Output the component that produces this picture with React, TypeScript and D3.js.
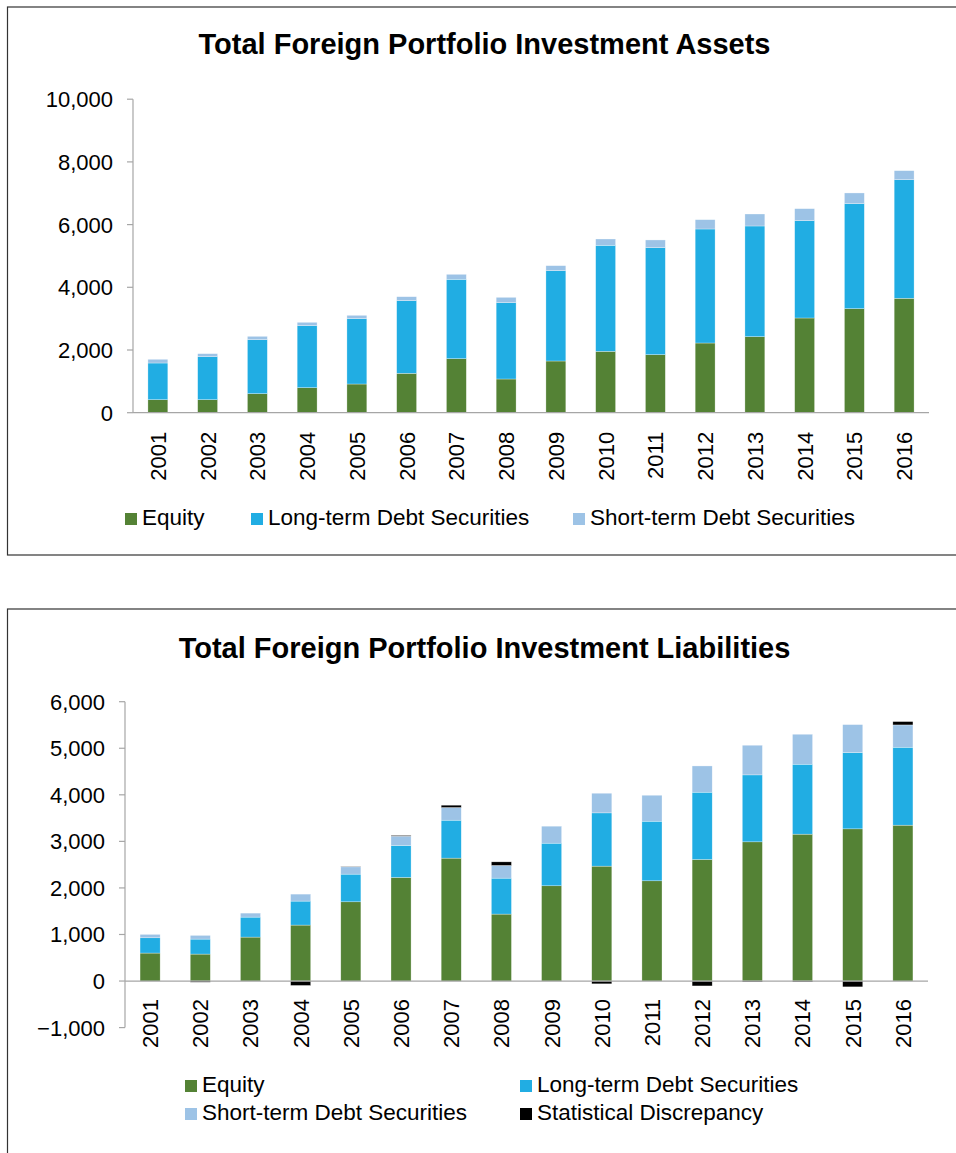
import React from "react";
import * as d3 from "d3";

const years = ["2001","2002","2003","2004","2005","2006","2007","2008","2009","2010","2011","2012","2013","2014","2015","2016"];

// Assets (USD bn)
const assetEquity = [415, 415, 607, 798, 915, 1256, 1723, 1075, 1649, 1957, 1851, 2223, 2425, 3021, 3318, 3649];
const assetLongTerm = [1170, 1372, 1723, 1979, 2085, 2317, 2532, 2434, 2882, 3383, 3413, 3637, 3531, 3104, 3349, 3784];
const assetShortTerm = [118, 96, 106, 106, 106, 127, 159, 171, 159, 201, 246, 297, 382, 383, 342, 287];

// Liabilities (USD bn)
const liabEquity = [601, 579, 944, 1202, 1702, 2225, 2640, 1438, 2046, 2468, 2153, 2611, 2990, 3155, 3269, 3348];
const liabLongTerm = [328, 322, 429, 515, 594, 687, 815, 772, 915, 1144, 1280, 1445, 1438, 1502, 1639, 1674];
const liabShortTerm = [73, 79, 86, 150, 157, 200, 272, 273, 365, 422, 558, 564, 637, 644, 600, 479];
const liabDiscrepancy = [0, -25, 0, -95, 8, 15, 50, 77, 0, -60, 0, -105, -20, -20, -125, 72];

const assetTicks = [0, 2000, 4000, 6000, 8000, 10000];
const liabTicks = [-1000, 0, 1000, 2000, 3000, 4000, 5000, 6000];

const seriesNames = ["Equity", "Long-term Debt Securities", "Short-term Debt Securities", "Statistical Discrepancy"];
const seriesColors = ["#548235", "#21ADE3", "#9DC3E6", "#000000"];

const FONT = "'Liberation Sans', Arial, sans-serif";
const fmt = d3.format(",");

type ChartProps = {
  title: string;
  titleY: number;
  titleSize: number;
  series: number[][];
  ticks: number[];
  domain: [number, number];
  xRange: [number, number];
  yRange: [number, number];
  xLabelOffset: number;
};

function StackedChart({ title, titleY, titleSize, series, ticks, domain, xRange, yRange, xLabelOffset }: ChartProps) {
  const rows = years.map((y, i) => {
    const r: any = { year: y };
    series.forEach((s, k) => (r["s" + k] = s[i]));
    return r;
  });
  const keys = series.map((_, k) => "s" + k);
  const stacked = d3.stack<any>().keys(keys).offset(d3.stackOffsetDiverging)(rows);
  const x = d3.scaleBand<string>().domain(years).range(xRange).paddingInner(0.6).paddingOuter(0.3);
  const y = d3.scaleLinear().domain(domain).range(yRange);
  const axisX = xRange[0];
  const zeroY = y(0);
  const axisColor = "#A6A6A6";
  return (
    <g>
      <text x={484.5} y={titleY} textAnchor="middle" fontFamily={FONT} fontWeight="bold" fontSize={titleSize} fill="#000">
        {title}
      </text>
      {stacked.map((layer, k) => (
        <g key={k} fill={seriesColors[k]}>
          {layer.map((d, i) => {
            const top = y(Math.max(d[0], d[1]));
            const bot = y(Math.min(d[0], d[1]));
            if (bot - top <= 0) return null;
            return (
              <rect key={i} x={x(years[i])} y={top} width={x.bandwidth()} height={bot - top}
                stroke="#ffffff" strokeWidth={0.5} strokeOpacity={0.6} />
            );
          })}
        </g>
      ))}
      <line x1={axisX} x2={axisX} y1={y(domain[1])} y2={y(domain[0])} stroke={axisColor} strokeWidth={1.2} />
      {ticks.map((t) => (
        <g key={t}>
          <line x1={axisX - 6} x2={axisX} y1={y(t)} y2={y(t)} stroke={axisColor} strokeWidth={1.2} />
          <text x={axisX - 20} y={y(t)} dy="0.36em" textAnchor="end" fontFamily={FONT} fontSize={22} fill="#000">
            {fmt(t)}
          </text>
        </g>
      ))}
      <line x1={xRange[0]} x2={xRange[1]} y1={zeroY} y2={zeroY} stroke={axisColor} strokeWidth={1.2} />
      {years.map((yr) => {
        const cx = (x(yr) as number) + x.bandwidth() / 2;
        const ly = y(domain[0]) + xLabelOffset;
        return (
          <text key={yr} transform={`translate(${cx},${ly}) rotate(-90)`} textAnchor="end" dy="0.36em"
            fontFamily={FONT} fontSize={22} fill="#000">
            {yr}
          </text>
        );
      })}
    </g>
  );
}

function LegendItem({ x, y, k }: { x: number; y: number; k: number }) {
  return (
    <g>
      <rect x={x} y={y - 12} width={12} height={12} fill={seriesColors[k]} />
      <text x={x + 17} y={y} fontFamily={FONT} fontSize={22.5} fill="#000">{seriesNames[k]}</text>
    </g>
  );
}

export default function App() {
  return (
    <svg width={956} height={1153} style={{ position: "absolute", left: 0, top: 0, background: "#fff" }}>
      <rect x={0} y={0} width={956} height={1153} fill="#fff" />
      <rect x={7.5} y={7} width={955} height={548} fill="none" stroke="#333" strokeWidth={1.2} />
      <rect x={7.5} y={609} width={955} height={560} fill="none" stroke="#333" strokeWidth={1.2} />
      <StackedChart
        title="Total Foreign Portfolio Investment Assets"
        titleY={54}
        titleSize={29}
        series={[assetEquity, assetLongTerm, assetShortTerm]}
        ticks={assetTicks}
        domain={[0, 10000]}
        xRange={[133, 929]}
        yRange={[412.7, 99.2]}
        xLabelOffset={19}
      />
      <LegendItem x={125} y={525} k={0} />
      <LegendItem x={251} y={525} k={1} />
      <LegendItem x={573} y={525} k={2} />
      <StackedChart
        title="Total Foreign Portfolio Investment Liabilities"
        titleY={658}
        titleSize={29}
        series={[liabEquity, liabLongTerm, liabShortTerm, liabDiscrepancy]}
        ticks={liabTicks}
        domain={[-1000, 6000]}
        xRange={[125, 928]}
        yRange={[1027.6, 701.7]}
        xLabelOffset={18 - 46.6}
      />
      <LegendItem x={185} y={1092} k={0} />
      <LegendItem x={520} y={1092} k={1} />
      <LegendItem x={185} y={1120} k={2} />
      <LegendItem x={520} y={1120} k={3} />
    </svg>
  );
}
